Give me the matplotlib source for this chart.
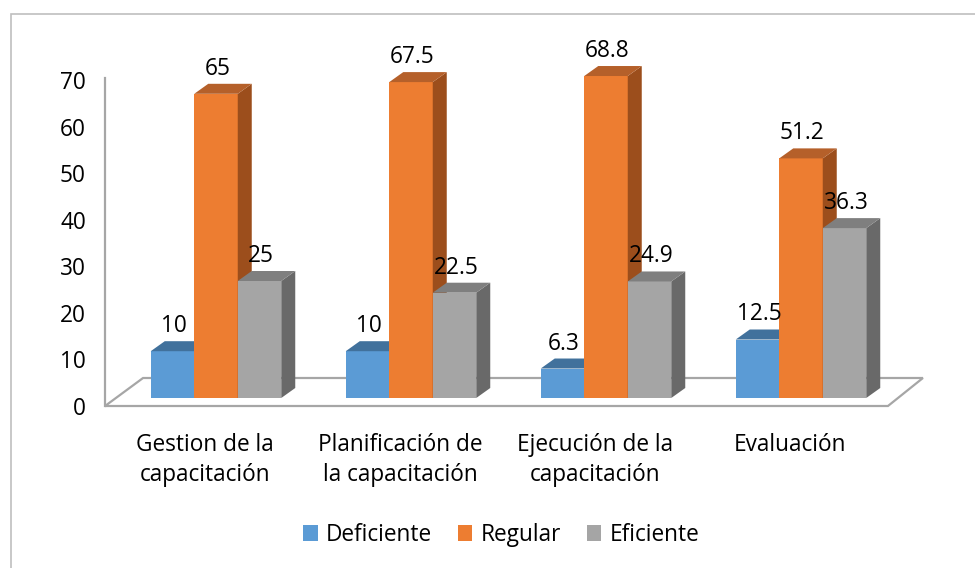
import matplotlib
matplotlib.use("Agg")
import matplotlib.pyplot as plt
from matplotlib.patches import Polygon, Rectangle, Patch

categories = ["Gestion de la\ncapacitación", "Planificación de\nla capacitación",
              "Ejecución de la\ncapacitación", "Evaluación"]
series_names = ["Deficiente", "Regular", "Eficiente"]
deficiente = [10, 10, 6.3, 12.5]
regular = [65, 67.5, 68.8, 51.2]
eficiente = [25, 22.5, 24.9, 36.3]
series_values = [deficiente, regular, eficiente]
value_labels = [["10", "10", "6.3", "12.5"],
                ["65", "67.5", "68.8", "51.2"],
                ["25", "22.5", "24.9", "36.3"]]
yticks = [0, 10, 20, 30, 40, 50, 60, 70]

front_colors = ["#5B9BD5", "#ED7D31", "#A5A5A5"]
top_colors = ["#41719C", "#B5602A", "#7F7F7F"]
side_colors = ["#3E6A94", "#9C4E1C", "#696969"]

FONT = ["Open Sans", "DejaVu Sans"]
plt.rcParams['font.family'] = FONT
FS = 16.3

W, H = 975, 568
fig = plt.figure(figsize=(W / 100, H / 100), dpi=100)

def frac_x(px):
    return px / W

def frac_y(py):
    return 1 - py / H

XLIM = (-0.6, 3.6)
grp_px = 195.0
x0_px = 216.0
left_px = x0_px + XLIM[0] * grp_px
right_px = x0_px + XLIM[1] * grp_px

# bar axes: value 0 -> 398px, 70 -> 70.4px
ax = fig.add_axes([frac_x(left_px), frac_y(398), frac_x(right_px - left_px),
                   (398 - 70.4) / H])
ax.set_xlim(*XLIM)
ax.set_ylim(0, 70)
ax.axis("off")

# frame axes: value 0 -> 406px, 70 -> 80px
fax = fig.add_axes([frac_x(left_px), frac_y(406), frac_x(right_px - left_px),
                    (406 - 80) / H], zorder=-1)
fax.set_xlim(*XLIM)
fax.set_ylim(0, 70)
for s in fax.spines.values():
    s.set_visible(False)
fax.set_xticks([])
fax.set_yticks(yticks)
fax.set_yticklabels([str(t) for t in yticks], fontsize=FS)
fax.tick_params(axis="y", length=0, pad=9.5)
fax.patch.set_visible(False)

pxu_f = (406 - 80) / 70.0
fl = -0.569
fr = 3.446
ddx = 38 / grp_px
ddy = 28 / pxu_f
floor = Polygon([(fl, 0), (fr, 0), (fr + ddx * 0.92, ddy), (fl + ddx, ddy)],
                closed=True, facecolor="white", edgecolor="#A6A6A6", lw=1.6,
                clip_on=False)
fax.add_patch(floor)
fax.plot([fl, fl], [0, 70.5], color="#A6A6A6", lw=1.6, clip_on=False)

# bars
bw = 43.5 / grp_px
dx = 14 / grp_px
pxu = (398 - 70.4) / 70.0
dy = 10 / pxu
z = 3
for i in range(len(categories)):
    for j, vals in enumerate(series_values):
        v = vals[i]
        xl = i + (j - 1.5) * bw
        xr = xl + bw
        ax.add_patch(Rectangle((xl, 0), bw, v, facecolor=front_colors[j],
                               edgecolor="none", zorder=z, clip_on=False))
        ax.add_patch(Polygon([(xr, 0), (xr + dx, dy), (xr + dx, v + dy), (xr, v)],
                             closed=True, facecolor=side_colors[j], edgecolor="none",
                             zorder=z, clip_on=False))
        ax.add_patch(Polygon([(xl, v), (xr, v), (xr + dx, v + dy), (xl + dx, v + dy)],
                             closed=True, facecolor=top_colors[j], edgecolor="none",
                             zorder=z, clip_on=False))
        z += 1
        ax.annotate(value_labels[j][i], xy=(xl + bw / 2, v), xytext=(1, 18),
                    textcoords="offset points", ha="center", va="center",
                    fontsize=FS, color="black", zorder=100, annotation_clip=False)

# category labels
for i, c in enumerate(categories):
    ax.annotate(c, xy=(i, 0), xytext=(-8, -25), textcoords="offset points",
                ha="center", va="top", fontsize=FS, linespacing=1.36,
                annotation_clip=False)

# legend
handles = [Patch(facecolor=front_colors[j], edgecolor="none") for j in range(3)]
fig.legend(handles, series_names, loc="center", bbox_to_anchor=(frac_x(501), frac_y(535)),
           ncol=3, frameon=False, fontsize=FS, handlelength=0.65, handleheight=0.65,
           handletextpad=0.35, columnspacing=1.15)

# outer border (left and top visible)
border = Rectangle((frac_x(10.5), frac_y(600)), 1.2, (600 - 14) / H,
                   transform=fig.transFigure, facecolor="none", edgecolor="#BFBFBF",
                   lw=1.2, clip_on=False)
fig.patches.append(border)

fig.savefig("out.png", dpi=100)
